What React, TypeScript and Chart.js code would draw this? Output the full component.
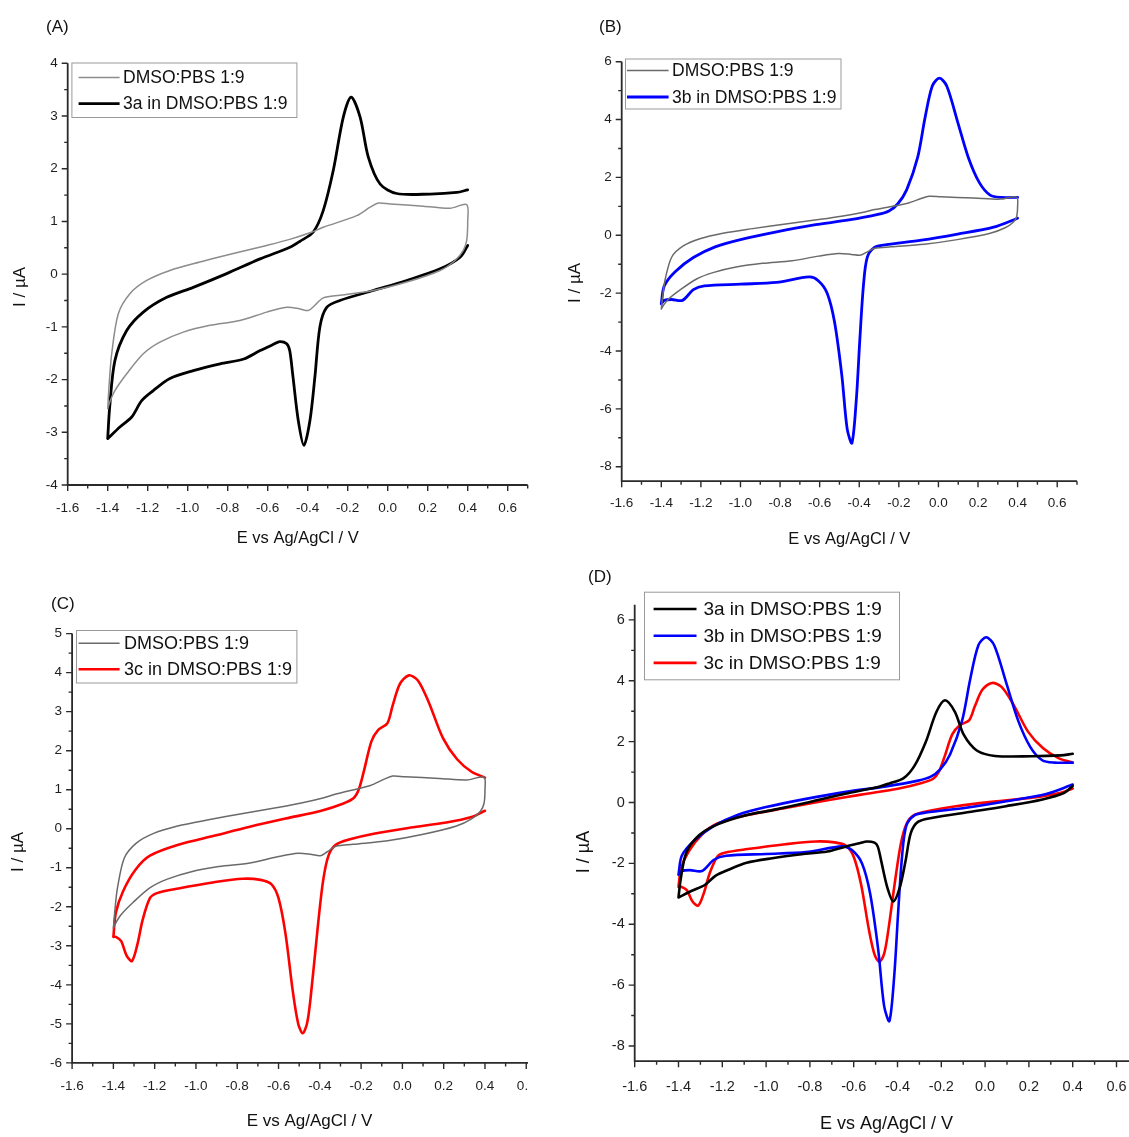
import React, { useEffect, useRef } from "react";
import { Chart, registerables } from "chart.js";

Chart.register(...registerables);

const FONT = "'Liberation Sans', Arial, Helvetica, sans-serif";

// ---- axis settings (shared x axis) ----
const E_MIN = -1.6;
const E_MAX = 0.7;
const E_MAJOR = 0.2;
const E_MINOR = 0.1;

const X_TITLE = "E vs Ag/AgCl / V";
const Y_TITLE = "I / µA";

// ---- series labels ----
const LABEL_BLANK = "DMSO:PBS 1:9";
const LABEL_3A = "3a in DMSO:PBS 1:9";
const LABEL_3B = "3b in DMSO:PBS 1:9";
const LABEL_3C = "3c in DMSO:PBS 1:9";

// ---- blank (DMSO:PBS 1:9) voltammogram, closed loop ----
const blankE = [
  -1.40, -1.392, -1.38, -1.347, -1.289, -1.205, -1.089, -0.939, -0.772, -0.605, -0.49, -0.385, -0.322,
  -0.155, -0.088, -0.047, 0.012, 0.178, 0.312, 0.395, 0.40, 0.395, 0.378, 0.337,
  0.262, 0.095, -0.072, -0.239, -0.322, -0.364, -0.397, -0.439, -0.505, -0.605, -0.739, -0.889,
  -1.022, -1.139, -1.222, -1.305, -1.364, -1.39, -1.40,
];
const blankI = [
  -2.55, -2.05, -1.51, -0.75, -0.37, -0.12, 0.07, 0.23, 0.39, 0.545, 0.66, 0.79, 0.89,
  1.11, 1.27, 1.35, 1.33, 1.29, 1.25, 1.32, 1.0, 0.64, 0.45, 0.26,
  0.07, -0.15, -0.31, -0.40, -0.45, -0.59, -0.69, -0.66, -0.63, -0.72, -0.88, -0.97,
  -1.10, -1.29, -1.51, -1.89, -2.21, -2.43, -2.55,
];

// ---- 3a: forward (anodic) and reverse (cathodic) scans ----
const a3UpE = [
  -1.40, -1.39, -1.364, -1.305, -1.222, -1.105, -0.972, -0.805, -0.638, -0.489, -0.44, -0.372,
  -0.322, -0.272, -0.222, -0.183, -0.138, -0.097, -0.038, 0.045, 0.212, 0.345, 0.40,
];
const a3UpI = [
  -3.12, -2.52, -1.64, -1.07, -0.72, -0.44, -0.25, 0.01, 0.29, 0.51, 0.62, 0.80,
  1.21, 1.97, 2.98, 3.36, 2.98, 2.22, 1.71, 1.53, 1.52, 1.55, 1.60,
];
const a3DnE = [
  0.40, 0.362, 0.262, 0.095, -0.072, -0.239, -0.305, -0.339, -0.364, -0.389, -0.419, -0.447,
  -0.475, -0.49, -0.505, -0.54, -0.57, -0.638, -0.72, -0.838, -0.972, -1.089, -1.172, -1.23,
  -1.28, -1.339, -1.40,
];
const a3DnI = [
  0.545, 0.32, 0.10, -0.12, -0.31, -0.50, -0.63, -1.0, -1.95, -2.78, -3.25, -2.78,
  -1.9, -1.45, -1.32, -1.28, -1.33, -1.45, -1.61, -1.70, -1.83, -1.98, -2.21, -2.40,
  -2.71, -2.90, -3.12,
];

// ---- 3b ----
const b3UpE = [
  -1.40, -1.385, -1.33, -1.238, -1.128, -1.0, -0.818, -0.635, -0.452, -0.306, -0.25, -0.205,
  -0.16, -0.105, -0.068, -0.031, 0.005, 0.042, 0.097, 0.151, 0.206, 0.261, 0.316, 0.40,
];
const b3UpI = [
  -2.37, -1.75, -1.26, -0.77, -0.40, -0.15, 0.12, 0.35, 0.53, 0.72, 0.84, 1.09,
  1.58, 2.69, 4.05, 5.16, 5.43, 5.16, 3.92, 2.69, 1.83, 1.39, 1.31, 1.31,
];
const b3DnE = [
  0.40, 0.279, 0.097, -0.086, -0.269, -0.323, -0.36, -0.379, -0.397, -0.415, -0.437, -0.461,
  -0.488, -0.525, -0.562, -0.607, -0.653, -0.818, -1.0, -1.183, -1.238, -1.293, -1.348,
  -1.385, -1.40,
];
const b3DnI = [
  0.59, 0.28, 0.04, -0.17, -0.33, -0.42, -0.77, -1.75, -3.6, -5.7, -7.18, -6.69,
  -4.84, -2.99, -2.0, -1.57, -1.44, -1.63, -1.69, -1.75, -1.88, -2.25, -2.22,
  -2.25, -2.37,
];

// ---- 3c ----
const c3UpE = [
  -1.40, -1.388, -1.353, -1.293, -1.223, -1.085, -0.912, -0.739, -0.566, -0.393, -0.289, -0.237,
  -0.211, -0.185, -0.15, -0.116, -0.073, -0.047, -0.012, 0.031, 0.075, 0.127, 0.196, 0.265,
  0.335, 0.40,
];
const c3UpI = [
  -2.77, -2.15, -1.60, -1.05, -0.69, -0.41, -0.18, 0.05, 0.26, 0.46, 0.64, 0.78,
  1.01, 1.51, 2.24, 2.54, 2.70, 3.16, 3.71, 3.93, 3.80, 3.25, 2.33, 1.78,
  1.46, 1.31,
];
const c3DnE = [
  0.40, 0.335, 0.213, 0.04, -0.133, -0.254, -0.323, -0.358, -0.384, -0.41, -0.445, -0.462,
  -0.483, -0.505, -0.531, -0.566, -0.60, -0.635, -0.687, -0.773, -0.912, -1.085, -1.189,
  -1.223, -1.258, -1.284, -1.31, -1.336, -1.362, -1.388, -1.40,
];
const c3DnI = [
  0.46, 0.30, 0.16, 0.03, -0.12, -0.27, -0.41, -0.69, -1.33, -2.52, -4.35, -4.99,
  -5.24, -4.99, -4.16, -2.70, -1.78, -1.42, -1.31, -1.28, -1.37, -1.53, -1.65,
  -1.78, -2.33, -2.97, -3.39, -3.25, -2.88, -2.77, -2.77,
];

type Part = { E: number[]; I: number[] };
type Series = { label: string; parts: Part[]; color: string; width: number };

const BLANK_PARTS: Part[] = [{ E: blankE, I: blankI }];
const A3_PARTS: Part[] = [{ E: a3UpE, I: a3UpI }, { E: a3DnE, I: a3DnI }];
const B3_PARTS: Part[] = [{ E: b3UpE, I: b3UpI }, { E: b3DnE, I: b3DnI }];
const C3_PARTS: Part[] = [{ E: c3UpE, I: c3UpI }, { E: c3DnE, I: c3DnI }];

type PanelCfg = {
  id: string;
  page: { x: number; y: number; w: number; h: number };
  canvasW: number;
  area: { l: number; t: number; r: number; b: number };
  y: { min: number; max: number; major: number; minor: number };
  series: Series[];
  legend: { box: number[]; rows: number[]; line: number[]; textX: number; font: number };
  tag: { text: string; x: number; y: number };
  xTitle: { y: number; font: number };
  yTitle: { x: number; y: number; font: number };
  tickFont: number;
  xLabelPad: number;
};

const PANELS: PanelCfg[] = [
  {
    id: "A",
    page: { x: 0, y: 0, w: 530, h: 568 },
    canvasW: 560,
    area: { l: 67.7, t: 63.3, r: 527.7, b: 485 },
    y: { min: -4, max: 4, major: 1, minor: 0.5 },
    series: [
      { label: LABEL_BLANK, parts: BLANK_PARTS, color: "#8c8c8c", width: 1.5 },
      { label: LABEL_3A, parts: A3_PARTS, color: "#000000", width: 2.8 },
    ],
    legend: { box: [71.4, 62.5, 296.4, 117], rows: [77.5, 103.6], line: [78.6, 119.6], textX: 123, font: 17.5 },
    tag: { text: "(A)", x: 46, y: 27 },
    xTitle: { y: 538, font: 16.5 },
    yTitle: { x: 20.5, y: 287, font: 17 },
    tickFont: 13.5,
    xLabelPad: 15,
  },
  {
    id: "B",
    page: { x: 560, y: 0, w: 569, h: 568 },
    canvasW: 569,
    area: { l: 621.7, t: 61.7, r: 1077, b: 481.2 },
    y: { min: -8.5, max: 6, major: 2, minor: 1 },
    series: [
      { label: LABEL_BLANK, parts: BLANK_PARTS, color: "#6a6a6a", width: 1.5 },
      { label: LABEL_3B, parts: B3_PARTS, color: "#0000ff", width: 2.8 },
    ],
    legend: { box: [625, 58.5, 840.5, 108.5], rows: [70.6, 97], line: [627, 668.6], textX: 672, font: 17.5 },
    tag: { text: "(B)", x: 599, y: 27 },
    xTitle: { y: 539, font: 16.5 },
    yTitle: { x: 575, y: 283, font: 17 },
    tickFont: 13.5,
    xLabelPad: 14,
  },
  {
    id: "C",
    page: { x: 0, y: 568, w: 528, h: 569 },
    canvasW: 560,
    area: { l: 72.1, t: 633.6, r: 546.9, b: 1062.9 },
    y: { min: -6, max: 5, major: 1, minor: 0.5 },
    series: [
      { label: LABEL_BLANK, parts: BLANK_PARTS, color: "#6a6a6a", width: 1.5 },
      { label: LABEL_3C, parts: C3_PARTS, color: "#ff0000", width: 2.6 },
    ],
    legend: { box: [76, 630, 296.4, 682.5], rows: [643.2, 669.3], line: [78.6, 119.6], textX: 124, font: 18 },
    tag: { text: "(C)", x: 51, y: 604 },
    xTitle: { y: 1121, font: 17 },
    yTitle: { x: 18, y: 852, font: 17 },
    tickFont: 13.5,
    xLabelPad: 15,
  },
  {
    id: "D",
    page: { x: 560, y: 568, w: 569, h: 569 },
    canvasW: 590,
    area: { l: 634.7, t: 604.7, r: 1138.4, b: 1061.2 },
    y: { min: -8.5, max: 6.5, major: 2, minor: 1 },
    series: [
      { label: LABEL_3A, parts: A3_PARTS, color: "#000000", width: 2.6 },
      { label: LABEL_3B, parts: B3_PARTS, color: "#0000ff", width: 2.6 },
      { label: LABEL_3C, parts: C3_PARTS, color: "#ff0000", width: 2.6 },
    ],
    legend: { box: [644, 591.7, 899, 679.3], rows: [609, 635.7, 662.9], line: [653.6, 696.5], textX: 703.4, font: 19 },
    tag: { text: "(D)", x: 588, y: 577 },
    xTitle: { y: 1124, font: 18 },
    yTitle: { x: 584, y: 852, font: 18 },
    tickFont: 14.5,
    xLabelPad: 17,
  },
];

const X_AXIS_H = 40;

function buildPoints(parts: Part[]) {
  const pts: { x: number; y: number | null }[] = [];
  parts.forEach((part, pi) => {
    if (pi > 0) pts.push({ x: part.E[0], y: null });
    part.E.forEach((e, i) => pts.push({ x: e, y: part.I[i] }));
  });
  return pts;
}

function makeDecor(p: PanelCfg) {
  return {
    id: "cvDecor" + p.id,
    afterDraw(chart: any) {
      const ctx: CanvasRenderingContext2D = chart.ctx;
      const { left, right, top, bottom } = chart.chartArea;
      const xs = chart.scales.x;
      const ys = chart.scales.y;
      const ox = p.page.x;
      const oy = p.page.y;
      ctx.save();

      // tick marks (major + minor)
      ctx.strokeStyle = "#2a2a2a";
      ctx.lineWidth = 1.4;
      ctx.beginPath();
      const nX = Math.round((E_MAX - E_MIN) / E_MINOR);
      const rX = Math.round(E_MAJOR / E_MINOR);
      for (let k = 0; k <= nX; k++) {
        const v = E_MIN + k * E_MINOR;
        const px = xs.getPixelForValue(v);
        const major = k % rX === 0;
        ctx.moveTo(px, bottom);
        ctx.lineTo(px, bottom + (major ? 6 : 3.5));
      }
      const kMin = Math.ceil(p.y.min / p.y.minor - 1e-9);
      const kMax = Math.floor(p.y.max / p.y.minor + 1e-9);
      const rY = Math.round(p.y.major / p.y.minor);
      for (let k = kMin; k <= kMax; k++) {
        const v = k * p.y.minor;
        const py = ys.getPixelForValue(v);
        const major = ((k % rY) + rY) % rY === 0;
        ctx.moveTo(left, py);
        ctx.lineTo(left - (major ? 6 : 3.5), py);
      }
      ctx.stroke();

      // axis lines
      ctx.lineWidth = 1.8;
      ctx.beginPath();
      ctx.moveTo(left, top);
      ctx.lineTo(left, bottom);
      ctx.lineTo(right, bottom);
      ctx.stroke();

      // legend
      const lg = p.legend;
      const bx = lg.box[0] - ox;
      const by = lg.box[1] - oy;
      const bw = lg.box[2] - lg.box[0];
      const bh = lg.box[3] - lg.box[1];
      ctx.fillStyle = "#ffffff";
      ctx.fillRect(bx, by, bw, bh);
      ctx.strokeStyle = "#9a9a9a";
      ctx.lineWidth = 1;
      ctx.strokeRect(bx + 0.5, by + 0.5, bw, bh);
      ctx.font = `${lg.font}px ${FONT}`;
      ctx.textBaseline = "middle";
      ctx.textAlign = "left";
      chart.data.datasets.forEach((ds: any, i: number) => {
        const ry = lg.rows[i] - oy;
        ctx.strokeStyle = ds.borderColor;
        ctx.lineWidth = ds.borderWidth;
        ctx.beginPath();
        ctx.moveTo(lg.line[0] - ox, ry);
        ctx.lineTo(lg.line[1] - ox, ry);
        ctx.stroke();
        ctx.fillStyle = "#111111";
        ctx.fillText(ds.label, lg.textX - ox, ry + 1);
      });

      // panel tag
      ctx.fillStyle = "#111111";
      ctx.font = `17px ${FONT}`;
      ctx.textAlign = "left";
      ctx.textBaseline = "middle";
      ctx.fillText(p.tag.text, p.tag.x - ox, p.tag.y - oy);

      // x title
      ctx.font = `${p.xTitle.font}px ${FONT}`;
      ctx.textAlign = "center";
      ctx.fillText(X_TITLE, (left + right) / 2, p.xTitle.y - oy);

      // y title
      ctx.save();
      ctx.translate(p.yTitle.x - ox, p.yTitle.y - oy);
      ctx.rotate(-Math.PI / 2);
      ctx.font = `${p.yTitle.font}px ${FONT}`;
      ctx.textAlign = "center";
      ctx.textBaseline = "middle";
      ctx.fillText(Y_TITLE, 0, 0);
      ctx.restore();

      ctx.restore();
    },
  };
}

function CVPanel({ p }: { p: PanelCfg }) {
  const ref = useRef<HTMLCanvasElement>(null);

  useEffect(() => {
    const canvas = ref.current;
    if (!canvas) return;
    const ox = p.page.x;
    const oy = p.page.y;
    const yAxisW = p.area.l - ox;
    const padTop = p.area.t - oy;
    const padRight = p.canvasW - (p.area.r - ox);
    const padBottom = p.page.h - (p.area.b - oy) - X_AXIS_H;

    const chart = new Chart(canvas, {
      type: "scatter",
      data: {
        datasets: p.series.map((s) => ({
          label: s.label,
          data: buildPoints(s.parts),
          showLine: true,
          spanGaps: false,
          borderColor: s.color,
          backgroundColor: s.color,
          borderWidth: s.width,
          pointRadius: 0,
          pointHoverRadius: 0,
          tension: 0.3,
          fill: false,
          borderJoinStyle: "round",
          borderCapStyle: "round",
        })),
      },
      options: {
        animation: false,
        responsive: false,
        devicePixelRatio: 1,
        events: [],
        layout: { padding: { left: 0, top: padTop, right: padRight, bottom: padBottom } },
        plugins: {
          legend: { display: false },
          tooltip: { enabled: false },
          title: { display: false },
        },
        scales: {
          x: {
            type: "linear",
            min: E_MIN,
            max: E_MAX,
            afterFit: (s: any) => {
              s.height = X_AXIS_H;
            },
            grid: { display: false, drawTicks: false },
            border: { display: false },
            ticks: {
              stepSize: E_MAJOR,
              includeBounds: false,
              autoSkip: false,
              maxRotation: 0,
              minRotation: 0,
              padding: p.xLabelPad,
              color: "#1e1e1e",
              font: { family: FONT, size: p.tickFont },
              callback: (v: any) => Number(v).toFixed(1),
            },
          },
          y: {
            type: "linear",
            min: p.y.min,
            max: p.y.max,
            afterFit: (s: any) => {
              s.width = yAxisW;
            },
            grid: { display: false, drawTicks: false },
            border: { display: false },
            ticks: {
              stepSize: p.y.major,
              includeBounds: false,
              autoSkip: false,
              padding: 10,
              color: "#1e1e1e",
              font: { family: FONT, size: p.tickFont },
              callback: (v: any) => String(Math.round(Number(v))),
            },
          },
        },
      },
      plugins: [makeDecor(p)],
    } as any);

    return () => chart.destroy();
  }, [p]);

  return (
    <div
      style={{
        position: "absolute",
        left: p.page.x,
        top: p.page.y,
        width: p.page.w,
        height: p.page.h,
        overflow: "hidden",
      }}
    >
      <canvas
        ref={ref}
        width={p.canvasW}
        height={p.page.h}
        style={{ display: "block", width: p.canvasW, height: p.page.h }}
      />
    </div>
  );
}

export default function App() {
  return (
    <div
      style={{
        position: "absolute",
        left: 0,
        top: 0,
        width: 1129,
        height: 1137,
        overflow: "hidden",
        background: "#ffffff",
      }}
    >
      {PANELS.map((p) => (
        <CVPanel key={p.id} p={p} />
      ))}
    </div>
  );
}
